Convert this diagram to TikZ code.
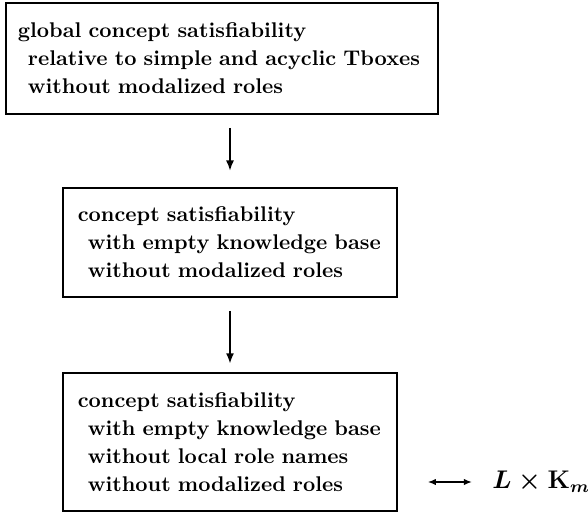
\documentclass[tikz,border=0pt]{standalone}
\usetikzlibrary{arrows.meta}
\newcommand{\probindent}{\hspace*{4.7pt}}
\begin{document}
\begin{tikzpicture}[x=0.47pt, y=-0.47pt, >={Latex[length=5pt,width=3.8pt]}]
  \tikzstyle{probbox} = [rectangle, draw, line width=0.9pt, align=left, inner ysep=0pt, font=\bfseries\fontsize{10}{13.2}\selectfont]
  \useasboundingbox (0,0) rectangle (588,514);

  \node[probbox, inner xsep=5.6pt, text width=191.8pt, minimum height=52.2pt] (global) at (222,58.5)
    {global concept satisfiability\\ \probindent relative to simple and acyclic Tboxes\\ \probindent without modalized roles};
  \node[probbox, inner xsep=7pt, text width=143pt, minimum height=51.2pt] (empty) at (230,242.5)
    {concept satisfiability\\ \probindent with empty knowledge base\\ \probindent without modalized roles};
  \node[probbox, inner xsep=7pt, text width=143pt, minimum height=64.9pt] (local) at (230,442)
    {concept satisfiability\\ \probindent with empty knowledge base\\ \probindent without local role names\\ \probindent without modalized roles};
  \node[anchor=west, inner sep=0pt, font=\fontsize{11.5}{14}\selectfont\boldmath] (km) at (492,482) {$L \times \mathbf{K}_m$};

  \draw[->, line width=1.1pt, shorten <=6.1pt, shorten >=7.5pt] (empty.north |- global.south) -- (empty.north);
  \draw[->, line width=1.1pt, shorten <=6.1pt, shorten >=3.8pt] (empty.south) -- (local.north);
  \draw[<->, line width=0.7pt, >={Latex[length=3.8pt,width=3pt]}, shorten <=14pt, shorten >=9.4pt] (local.east |- km.west) -- (km.west);
\end{tikzpicture}
\end{document}
